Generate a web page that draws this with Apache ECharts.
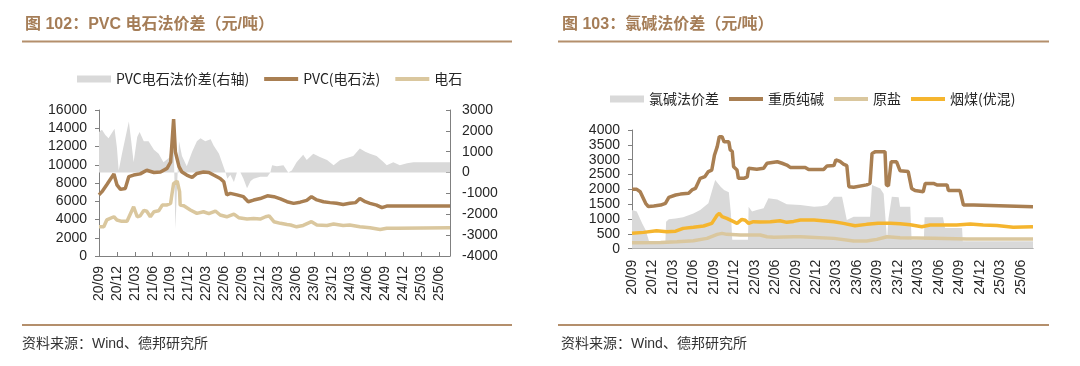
<!DOCTYPE html>
<html><head><meta charset="utf-8">
<script src="https://cdn.jsdelivr.net/npm/echarts@6/dist/echarts.min.js"></script>
<style>html,body{margin:0;padding:0;background:#fff}#c{width:1080px;height:366px}</style>
</head><body><div id="c"></div>
<script>
// x positions are months since 2020-09
const tickLabels = ['20/09','20/12','21/03','21/06','21/09','21/12','22/03','22/06','22/09','22/12','23/03','23/06','23/09','23/12','24/03','24/06','24/09','24/12','25/03','25/06'];

// Chart 102 — PVC calcium carbide spread (right axis)
const pvcSpreadM = [0,0.5,1.06,1.6,2.6,3.0,3.3,3.85,5.0,5.4,5.8,6.4,6.8,7.5,8.3,9.2,10.0,10.8,11.7,12.2,12.5,12.8,13.1,13.4,13.9,14.7,15.6,16.4,17.0,17.8,18.7,19.2,20.1,20.6,21.2,21.5,22.0,22.6,23.1,23.7,24.2,24.8,25.4,25.9,27.0,28.2,28.7,29.0,29.8,30.9,31.7,32.3,33.1,34.2,34.8,35.9,37.0,38.2,39.3,40.4,41.5,42.6,43.7,44.6,45.4,46.5,47.7,48.2,49.3,50.4,51.6,52.7,58.8];
const pvcSpreadV = [1950,2050,1800,1650,2100,1200,100,900,2450,1500,500,1700,1950,1500,1500,1100,900,500,700,1300,1600,-2700,-500,1500,800,300,1000,1500,1650,1500,1600,1300,900,500,0,-300,-100,-450,0,0,-300,-750,-400,-300,-200,-200,0,350,300,350,0,100,500,850,600,900,750,600,350,600,700,800,1150,1000,900,800,500,350,500,350,450,500,500];
// PVC price (calcium carbide method)
const pvcM = [0,0.5,1.3,2.5,3.0,3.6,4.4,5.0,5.8,6.9,8.0,9.2,10.3,11.4,12.0,12.2,12.5,12.8,13.4,13.9,14.7,15.6,16.4,17.5,18.4,19.2,20.3,20.9,21.4,22.0,23.1,24.2,25.0,25.9,27.0,28.2,29.3,30.4,31.5,32.6,33.7,34.8,35.6,36.5,37.6,38.7,39.8,40.9,42.0,43.0,43.7,44.6,45.4,46.5,47.4,48.2,58.8];
const pvcV = [6700,7050,7800,9000,7800,7300,7400,8700,8870,9000,9400,9150,9200,9600,10300,12150,15000,11400,9800,9200,8870,8600,9050,9200,9150,8870,8500,8140,6700,6860,6700,6500,5950,6130,6300,6600,6500,6250,5950,5770,5900,6100,6500,6150,5950,5850,5770,5650,5770,5850,6300,5950,5770,5580,5300,5470,5470];
// Calcium carbide price
const carbideM = [0,0.8,1.3,2.5,3.0,3.8,4.7,5.8,6.4,6.9,7.5,8.0,8.6,9.2,10.0,10.6,11.4,12.0,12.2,12.5,13.1,13.5,13.6,14.2,15.3,16.4,17.5,18.4,19.5,20.3,21.4,22.6,23.4,24.8,25.9,27.0,27.9,28.5,29.3,30.4,31.5,32.1,33.1,34.2,35.6,36.5,38.2,39.3,40.9,42.0,43.7,45.4,47.1,48.2,49.9,58.8];
const carbideV = [3200,3200,3950,4300,3950,3800,3800,5400,4300,4400,5000,4900,4300,4850,4950,5580,5600,5770,6680,7950,8200,7050,5580,5500,5040,4670,4850,4650,4930,4490,4300,4600,4200,4050,4120,4050,4300,4400,3760,3580,3450,3400,3200,3350,3760,3400,3350,3500,3350,3400,3200,3100,2900,3050,3030,3100];

// Chart 103 — chlor-alkali spread
const caSpreadM = [0,0.7,1.5,2.0,2.5,4.9,5.0,5.4,6.4,7.5,9.0,10.0,11.2,11.9,12.2,13.0,13.5,14.2,14.5,14.7,17.0,17.1,17.6,18.3,19.3,20.0,21.3,22.7,24.7,26.7,27.8,28.6,29.6,30.8,31.5,32.5,34.9,35.2,36.4,36.9,37.4,37.6,38.1,39.1,39.3,40.8,41.0,42.8,42.9,45.6,45.9,48.4,48.5,58.8];
const caSpreadV = [1300,1250,850,630,250,250,910,990,1020,1056,1190,1300,1530,2090,2315,2090,1980,1900,1200,300,300,1415,1250,1300,1360,1700,1660,1500,1470,1415,1430,1470,1750,1750,966,1080,1080,2150,2030,1850,300,1000,1750,1730,1415,1415,300,300,1056,1056,700,700,250,250];
// Heavy soda ash
const sodaM = [0,0.7,1.2,2.0,2.4,3.2,4.2,4.9,5.4,6.4,7.1,8.3,8.8,9.3,10.0,10.7,11.2,11.7,12.1,12.5,12.8,13.2,13.5,14.2,14.4,14.7,14.9,15.4,15.6,16.4,16.9,17.1,18.3,19.3,19.8,20.0,21.3,22.0,22.7,23.2,25.4,25.9,28.1,28.6,29.6,29.9,30.5,31.0,31.5,31.8,32.5,34.4,34.9,35.2,35.7,37.1,37.3,37.6,38.0,38.8,39.3,40.5,41.0,41.5,42.7,43.0,44.2,44.7,46.2,46.4,48.1,48.6,50.1,50.3,58.8];
const sodaV = [2000,2000,1920,1530,1420,1440,1470,1530,1730,1810,1840,1865,1980,2030,2370,2430,2600,2650,3160,3440,3775,3775,3600,3600,3330,3280,2760,2650,2370,2370,2420,2710,2680,2710,2880,2930,2930,2880,2820,2740,2740,2670,2670,2790,2800,2990,2940,2850,2800,2090,2070,2150,2200,3210,3270,3270,2150,2120,2930,2930,2630,2600,2030,1960,1920,2200,2200,2150,2150,1960,1960,1470,1470,1415,1415];
// Crude salt
const saltM = [0,4.2,6.6,9.0,11.0,12.5,13.2,13.9,15.9,18.8,19.8,20.8,23.7,24.7,29.6,32.5,34.4,35.9,37.4,39.3,44.2,49.1,58.8];
const saltV = [202,213,236,270,348,483,517,483,460,460,404,382,404,404,348,258,258,315,404,370,348,326,326];
// Bituminous coal (优混)
const coalM = [0,1.7,3.6,5.1,6.4,7.5,9.0,10.5,11.7,12.5,12.8,13.2,13.9,14.9,15.4,16.1,16.6,17.1,17.8,18.8,20.3,21.7,22.7,23.7,24.7,26.7,27.1,29.6,31.0,32.7,34.4,36.1,37.9,39.3,40.8,42.5,43.7,45.7,47.6,49.6,51.5,53.5,55.9,58.8];
const coalV = [517,550,607,573,590,685,720,764,854,1135,1190,1080,1020,910,854,990,960,854,910,900,910,944,888,920,966,966,960,910,854,775,820,854,854,840,810,742,798,798,798,831,798,780,720,742];

const zip = (a, b) => a.map((v, i) => [v, b[i]]);

const C = {brown:'#a97f52', tan:'#dac79e', gray:'#d9d9d9', yellow:'#f5b52e', axis:'#808080', text:'#262626', title:'#a57d57', rule:'#b48f6c'};
const FONT = 'Liberation Sans, Arial, Noto Sans CJK SC, sans-serif';
const CJK = 'Noto Sans CJK SC, sans-serif';
const LINE_ICON = 'path://M0,0L34,0L34,4L0,4Z';

const xLabel = v => {
  const q = v / 3;
  return Math.abs(q - Math.round(q)) < 1e-6 ? (tickLabels[Math.round(q)] || '') : '';
};
function xAxis(grid, margin) {
  return {type:'value', gridIndex:grid, min:0, max:58.8, interval:3,
    axisLine:{show:true, onZero:false, lineStyle:{color:C.axis}},
    axisTick:{show:true, inside:true, length:4, lineStyle:{color:C.axis}},
    splitLine:{show:false},
    axisLabel:{rotate:90, margin:margin, fontSize:14, color:C.text, fontFamily:FONT, formatter:xLabel, showMaxLabel:false}};
}
function yAxis(grid, min, max, interval, pos, inside) {
  return {type:'value', gridIndex:grid, min, max, interval, position:pos,
    axisLine:{show:true, lineStyle:{color:C.axis}},
    axisTick:{show:true, inside:inside, length:4, lineStyle:{color:C.axis}},
    splitLine:{show:false},
    axisLabel:{margin:12, fontSize:14, color:C.text, fontFamily:FONT, formatter: v => String(v)}};
}
const lineS = (name, xi, yi, data, color, w) => ({type:'line', name, xAxisIndex:xi, yAxisIndex:yi, data, symbol:'none',
  lineStyle:{width:w, color}, itemStyle:{color}, z:3});
const areaS = (name, xi, yi, data) => ({type:'line', name, xAxisIndex:xi, yAxisIndex:yi, data, symbol:'none',
  lineStyle:{width:0, color:C.gray}, itemStyle:{color:C.gray}, areaStyle:{color:C.gray, opacity:1}, z:1});

const legendBase = {itemWidth:34, itemHeight:7, textStyle:{fontSize:14, color:C.text, fontFamily:CJK}};

const option = {
  animation:false,
  backgroundColor:'#fff',
  grid:[
    {left:99, right:630, top:110, bottom:110},
    {left:632, right:47, top:130, bottom:117.3}
  ],
  xAxis:[xAxis(0, 10), xAxis(1, 11)],
  yAxis:[
    yAxis(0, 0, 16000, 2000, 'left', false),
    yAxis(0, -4000, 3000, 1000, 'right', true),
    yAxis(1, 0, 4000, 500, 'left', false)
  ],
  legend:[
    Object.assign({}, legendBase, {left:72, top:67, itemGap:15,
      data:[{name:'PVC电石法价差(右轴)', icon:'rect'}, {name:'PVC(电石法)', icon:LINE_ICON}, {name:'电石', icon:LINE_ICON}]}),
    Object.assign({}, legendBase, {left:605, top:87, itemGap:10,
      data:[{name:'氯碱法价差', icon:'rect'}, {name:'重质纯碱', icon:LINE_ICON}, {name:'原盐', icon:LINE_ICON}, {name:'烟煤(优混)', icon:LINE_ICON}]})
  ],
  series:[
    areaS('PVC电石法价差(右轴)', 0, 1, zip(pvcSpreadM, pvcSpreadV)),
    lineS('PVC(电石法)', 0, 0, zip(pvcM, pvcV), C.brown, 3.5),
    lineS('电石', 0, 0, zip(carbideM, carbideV), C.tan, 3.5),
    areaS('氯碱法价差', 1, 2, zip(caSpreadM, caSpreadV)),
    lineS('重质纯碱', 1, 2, zip(sodaM, sodaV), C.brown, 3.5),
    lineS('原盐', 1, 2, zip(saltM, saltV), C.tan, 3.5),
    lineS('烟煤(优混)', 1, 2, zip(coalM, coalV), C.yellow, 3.5)
  ],
  graphic:[
    {type:'text', x:25, y:25, style:{text:'图 102：PVC 电石法价差（元/吨）', fontSize:16, fontWeight:'bold', fill:C.title, fontFamily:FONT, verticalAlign:'middle'}},
    {type:'line', shape:{x1:22, y1:41.5, x2:512, y2:41.5}, style:{stroke:C.rule, lineWidth:2}},
    {type:'line', shape:{x1:22, y1:325, x2:512, y2:325}, style:{stroke:C.rule, lineWidth:2}},
    {type:'text', x:22, y:344, style:{text:'资料来源：Wind、德邦研究所', fontSize:14, fill:'#333', fontFamily:FONT, verticalAlign:'middle'}},
    {type:'text', x:562, y:25, style:{text:'图 103：氯碱法价差（元/吨）', fontSize:16, fontWeight:'bold', fill:C.title, fontFamily:FONT, verticalAlign:'middle'}},
    {type:'line', shape:{x1:558, y1:41.5, x2:1049, y2:41.5}, style:{stroke:C.rule, lineWidth:2}},
    {type:'line', shape:{x1:558, y1:325, x2:1049, y2:325}, style:{stroke:C.rule, lineWidth:2}},
    {type:'text', x:561, y:344, style:{text:'资料来源：Wind、德邦研究所', fontSize:14, fill:'#333', fontFamily:FONT, verticalAlign:'middle'}}
  ]
};
const chart = echarts.init(document.getElementById('c'), null, {renderer:'canvas'});
chart.setOption(option);
</script></body></html>
